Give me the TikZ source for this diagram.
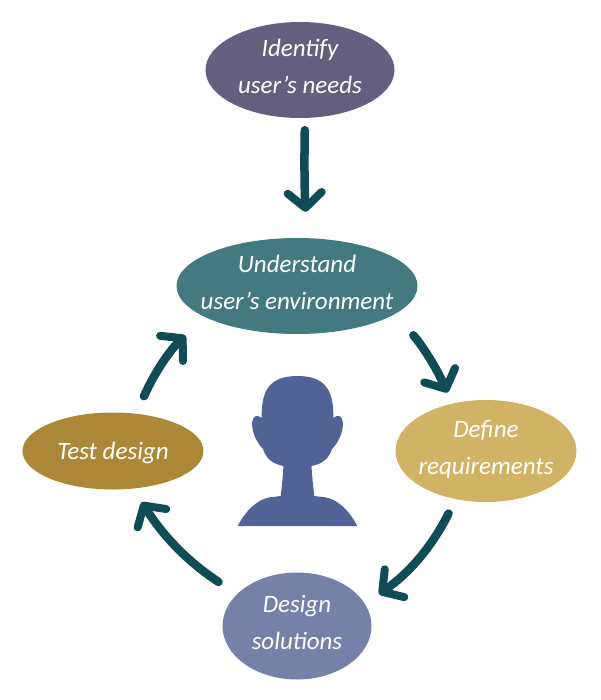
\documentclass[tikz,border=0pt]{standalone}
\usepackage{fontspec}
\setmainfont{Carlito}
\usetikzlibrary{shapes.geometric,arrows.meta,positioning}
\definecolor{needscolor}{HTML}{655F7F}
\definecolor{envcolor}{HTML}{437A80}
\definecolor{reqcolor}{HTML}{D2B366}
\definecolor{testcolor}{HTML}{AB8737}
\definecolor{designcolor}{HTML}{7681A9}
\definecolor{arrowcolor}{HTML}{0F4C55}
\definecolor{headcolor}{HTML}{516297}
\tikzstyle{stage} = [ellipse, text=white, align=center, inner xsep=-50pt, inner ysep=-25pt, font=\fontsize{25}{37}\selectfont\itshape]
\tikzstyle{flow}  = [draw=arrowcolor, line width=8.5pt, line cap=round, -{Straight Barb[length=15pt,width=34pt,line width=8pt,round]}]

\begin{document}
\begin{tikzpicture}[node distance = 216pt]
        \useasboundingbox (-300pt,70pt) rectangle (300pt,-630pt);
        \node [stage, fill=needscolor, minimum width=189pt, minimum height=96pt] (needs) {Identify\\user's needs\\[-29pt]};
        \node [stage, fill=envcolor, minimum width=241pt, minimum height=96pt, below of=needs, xshift=-3pt] (env) {Understand\\user's environment\\[-29pt]};
        \node [stage, fill=reqcolor, minimum width=181pt, minimum height=102pt, node distance=165pt, below of=env, xshift=189pt] (req) {Define\\requirements\\[-29pt]};
        \node [stage, fill=testcolor, minimum width=181pt, minimum height=77pt, node distance=165pt, below of=env, xshift=-184pt] (test) {\rule{0pt}{22pt}Test design};
        \node [stage, fill=designcolor, minimum width=149pt, minimum height=107pt, node distance=340pt, below of=env] (design) {Design\\solutions\\[-29pt]};

        \path [flow, shorten <=12pt, shorten >=26pt] ([xshift=5pt]needs.south) to[bend right=2] ([xshift=10pt]env.north);
        \path [flow, shorten <=28pt, shorten >=12pt] (env.-16) to[bend left=8] (req.125);
        \path [flow, shorten <=16pt, shorten >=17pt] (req.-122) to[bend left=14] (design.18);
        \path [flow, shorten <=22pt, shorten >=16pt] (design.152) to[bend left=12] (test.-62);
        \path [flow, shorten <=19pt, shorten >=27pt] (test.58) to[bend left=12] (env.-161);

        % head in the middle
        \begin{scope}[shift={(-300pt,70pt)}, x=1pt, y=-1pt]
        \fill [headcolor] (237.7,526) .. controls (246,510) and (258,499) .. (270,497.3) -- (280.7,496)
          .. controls (282,485) and (283,475) .. (283.5,466) .. controls (272,464) and (266,458) .. (263,449)
          .. controls (255,441) and (250,427) .. (253,419) .. controls (255,415) and (258,415) .. (261.7,418)
          .. controls (261,390) and (270,376) .. (297.5,376) .. controls (325,376) and (334,390) .. (333.3,418)
          .. controls (337,415) and (340,415) .. (342,419) .. controls (345,427) and (340,441) .. (332,449)
          .. controls (329,458) and (323,464) .. (311.5,466) .. controls (312,475) and (313,485) .. (314.3,496)
          -- (325,497.3) .. controls (337,499) and (349,510) .. (357.3,526) -- cycle;
        \end{scope}
      \end{tikzpicture}
\end{document}
